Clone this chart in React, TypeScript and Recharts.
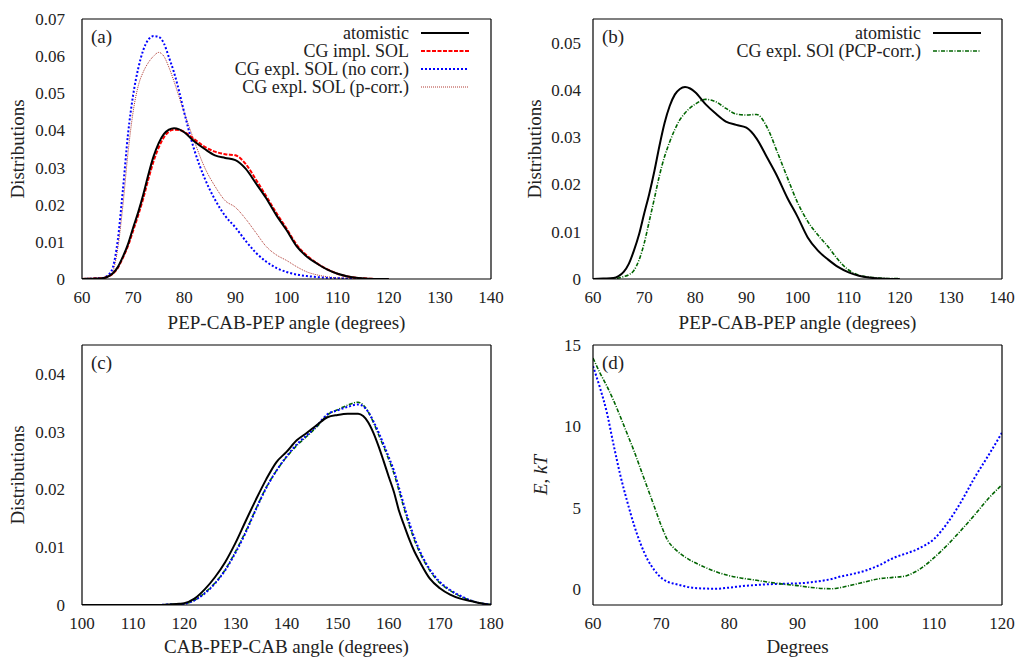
import React from "react";
import { LineChart, Line, XAxis, YAxis } from "recharts";

const FONT = '"Liberation Serif", "Times New Roman", serif';
const INK = "#222";

// (a), (b): PEP-CAB-PEP angle in degrees
const pepAngle = [60, 62, 64, 65, 66, 67, 68, 69, 70, 71, 72, 73, 74, 75, 76, 77, 78, 79, 80, 82, 84, 86, 88, 90, 92, 94, 96, 98, 100, 102, 104, 106, 108, 110, 112, 114, 116, 118, 120];
const pepAtomistic = [0, 0.0001, 0.0002, 0.0006, 0.0015, 0.0032, 0.006, 0.0094, 0.0138, 0.018, 0.0228, 0.0282, 0.033, 0.0366, 0.039, 0.0402, 0.0406, 0.0403, 0.0395, 0.037, 0.035, 0.0333, 0.0326, 0.032, 0.0297, 0.0258, 0.0218, 0.0172, 0.0132, 0.0088, 0.006, 0.0041, 0.0025, 0.0014, 0.0007, 0.0003, 0.0001, 0, 0];
const pepImplSol = [0, 0.0001, 0.0002, 0.0006, 0.0014, 0.003, 0.0057, 0.0089, 0.013, 0.0172, 0.0218, 0.027, 0.0317, 0.0354, 0.0381, 0.0397, 0.0402, 0.0401, 0.0396, 0.0376, 0.0356, 0.0343, 0.0336, 0.0333, 0.031, 0.0268, 0.0224, 0.0178, 0.0136, 0.0092, 0.0063, 0.0042, 0.0026, 0.0014, 0.0007, 0.0003, 0.0001, 0, 0];
const pepNoCorr = [0, 0.0001, 0.0003, 0.0009, 0.003, 0.0105, 0.024, 0.039, 0.0495, 0.0567, 0.0617, 0.0645, 0.0654, 0.0652, 0.0635, 0.0597, 0.0556, 0.0505, 0.0448, 0.0346, 0.0271, 0.0214, 0.017, 0.0139, 0.0103, 0.0071, 0.0047, 0.003, 0.0019, 0.0012, 0.0008, 0.0005, 0.0003, 0.0002, 0.0001, 0, 0, 0, 0];
const pepPCorr = [0, 0.0001, 0.0003, 0.0008, 0.002, 0.0083, 0.0198, 0.034, 0.045, 0.052, 0.0558, 0.0583, 0.06, 0.061, 0.06, 0.057, 0.0532, 0.049, 0.0448, 0.037, 0.03, 0.025, 0.0211, 0.0193, 0.0162, 0.0125, 0.0088, 0.0065, 0.005, 0.0033, 0.0019, 0.0011, 0.0006, 0.0003, 0.0002, 0.0001, 0, 0, 0];
const pepPcpCorr = [0, 0, 0.0001, 0.0002, 0.0005, 0.0009, 0.0018, 0.004, 0.0075, 0.0122, 0.017, 0.0219, 0.0259, 0.029, 0.0316, 0.0337, 0.0351, 0.0362, 0.037, 0.038, 0.0375, 0.0361, 0.0349, 0.0347, 0.0348, 0.0322, 0.027, 0.0215, 0.0162, 0.0122, 0.0093, 0.0068, 0.004, 0.0019, 0.0008, 0.0004, 0.0002, 0.0001, 0.0001];

// (c): CAB-PEP-CAB angle in degrees
const cabAngle = [100, 105, 110, 115, 117, 119, 120, 122, 124, 126, 128, 130, 132, 134, 136, 138, 140, 142, 144, 146, 148, 150, 152, 154, 155, 156, 157, 158, 159, 160, 161, 162, 163, 164, 165, 166, 168, 170, 172, 174, 176, 178, 180];
const cabAtomistic = [0, 0, 0, 0, 0.0001, 0.0002, 0.0003, 0.0011, 0.0027, 0.0048, 0.0074, 0.0107, 0.0145, 0.0182, 0.0217, 0.0247, 0.0265, 0.0285, 0.0298, 0.0312, 0.0325, 0.0329, 0.0331, 0.0331, 0.0327, 0.0316, 0.0298, 0.0275, 0.0249, 0.0222, 0.0196, 0.0163, 0.0138, 0.0114, 0.0093, 0.0076, 0.0046, 0.0029, 0.0018, 0.0011, 0.0007, 0.0003, 0];
const cabNoCorr = [0, 0, 0, 0, 0.0001, 0.0001, 0.0002, 0.0008, 0.002, 0.0037, 0.006, 0.009, 0.0125, 0.0165, 0.0202, 0.0232, 0.0257, 0.0278, 0.0294, 0.0311, 0.033, 0.0337, 0.0343, 0.0347, 0.0344, 0.0334, 0.0318, 0.0299, 0.0278, 0.0256, 0.0233, 0.0203, 0.0172, 0.0143, 0.0117, 0.0095, 0.0062, 0.004, 0.0026, 0.0016, 0.0008, 0.0003, 0.0001];
const cabPcpCorr = [0, 0, 0, 0, 0.0001, 0.0001, 0.0002, 0.0008, 0.0021, 0.0038, 0.0061, 0.0092, 0.0127, 0.0166, 0.0203, 0.0232, 0.0256, 0.0276, 0.0292, 0.0309, 0.0329, 0.0338, 0.0346, 0.0351, 0.0346, 0.0334, 0.0316, 0.0295, 0.0274, 0.0252, 0.0228, 0.0198, 0.0167, 0.0138, 0.0113, 0.0092, 0.006, 0.0038, 0.0025, 0.0015, 0.0008, 0.0003, 0.0001];

// (d): potentials, kT
const potAngle = [60, 61, 62, 63, 64, 65, 66, 67, 68, 69, 70, 71, 72, 73, 74, 76, 78, 80, 82, 84, 86, 88, 90, 92, 94, 95, 96, 98, 100, 102, 104, 106, 107, 108, 110, 112, 114, 116, 118, 120];
const potNoCorr = [13.7, 12.4, 10.9, 8.9, 7.0, 5.4, 3.95, 2.75, 1.8, 1.15, 0.68, 0.42, 0.3, 0.2, 0.1, 0.02, 0, 0.07, 0.17, 0.23, 0.28, 0.31, 0.33, 0.4, 0.52, 0.6, 0.72, 0.9, 1.12, 1.45, 1.88, 2.18, 2.33, 2.52, 3.05, 4.05, 5.35, 6.85, 8.2, 9.6];
const potPcpCorr = [14.2, 13.3, 12.5, 11.6, 10.6, 9.55, 8.5, 7.35, 6.2, 5.05, 3.9, 2.95, 2.45, 2.1, 1.82, 1.4, 1.05, 0.8, 0.64, 0.52, 0.39, 0.28, 0.19, 0.08, 0.01, 0, 0.05, 0.23, 0.43, 0.62, 0.7, 0.8, 0.98, 1.22, 1.9, 2.7, 3.6, 4.55, 5.55, 6.4];

const pepTicksX = [60, 70, 80, 90, 100, 110, 120, 130, 140];
const cabTicksX = [100, 110, 120, 130, 140, 150, 160, 170, 180];
const potTicksX = [60, 70, 80, 90, 100, 110, 120];
const ticksA = [0, 0.01, 0.02, 0.03, 0.04, 0.05, 0.06, 0.07];
const ticksB = [0, 0.01, 0.02, 0.03, 0.04, 0.05];
const ticksC = [0, 0.01, 0.02, 0.03, 0.04];
const ticksD = [0, 5, 10, 15];

const pepRows = pepAngle.map((x, i) => ({
  x,
  atom: pepAtomistic[i],
  impl: pepImplSol[i],
  noCorr: pepNoCorr[i],
  pCorr: pepPCorr[i],
  pcp: pepPcpCorr[i],
}));
const cabRows = cabAngle.map((x, i) => ({
  x,
  atom: cabAtomistic[i],
  noCorr: cabNoCorr[i],
  pcp: cabPcpCorr[i],
}));
const potRows = potAngle.map((x, i) => ({ x, noCorr: potNoCorr[i], pcp: potPcpCorr[i] }));

interface SeriesStyle {
  key: string;
  name: string;
  stroke: string;
  width: number;
  dash?: string;
}

const ATOM: SeriesStyle = { key: "atom", name: "atomistic", stroke: "#000", width: 2 };
const IMPL: SeriesStyle = { key: "impl", name: "CG impl. SOL", stroke: "#ff0000", width: 2, dash: "4 1.5" };
const NOCORR: SeriesStyle = { key: "noCorr", name: "CG expl. SOL (no corr.)", stroke: "#0000ff", width: 2, dash: "2 2" };
const PCORR: SeriesStyle = { key: "pCorr", name: "CG expl. SOL (p-corr.)", stroke: "#b03a32", width: 1, dash: "1 1" };
const PCP: SeriesStyle = { key: "pcp", name: "CG expl. SOl (PCP-corr.)", stroke: "#006400", width: 1.6, dash: "4 1.5 1 1.5" };

// axis title drawn at a fixed spot; props named so recharts won't overwrite them
function AxisTitle({ px, py, vertical, children }: { px: number; py: number; vertical?: boolean; children: React.ReactNode }) {
  return (
    <text
      x={px}
      y={py}
      transform={vertical ? `rotate(-90 ${px} ${py})` : undefined}
      textAnchor="middle"
      dominantBaseline="central"
      fontFamily={FONT}
      fontSize={19}
      fill={INK}
    >
      {children}
    </text>
  );
}

interface PanelProps {
  left: number;
  top: number;
  width: number;
  height: number;
  marginTop: number;
  marginRight: number;
  yAxisWidth: number;
  xAxisHeight: number;
  xTitleGap: number;
  rows: Record<string, number>[];
  xDomain: [number, number];
  xTicks: number[];
  yDomain: [number, number];
  yTicks: number[];
  yDigits: number;
  yTickGap: number;
  yTitle: React.ReactNode;
  yTitleX: number;
  xTitle: string;
  tag: string;
  series: SeriesStyle[];
  legend?: SeriesStyle[];
  legendTop?: number;
  legendEnd?: number;
}

function Panel(p: PanelProps) {
  const plotBottom = p.height - p.xAxisHeight;
  const plotMidY = (p.marginTop + plotBottom) / 2;
  const plotMidX = (p.yAxisWidth + p.width - p.marginRight) / 2;
  const tickFont = { fontFamily: FONT, fontSize: 17, fill: INK };
  const border = { stroke: "#000", strokeWidth: 1.2 };
  const inner = { stroke: "#000", strokeWidth: 1 };

  const xCommon = {
    dataKey: "x",
    type: "number" as const,
    domain: p.xDomain,
    ticks: p.xTicks,
    interval: 0 as const,
    allowDataOverflow: true,
  };
  const yCommon = {
    type: "number" as const,
    domain: p.yDomain,
    ticks: p.yTicks,
    interval: 0 as const,
    allowDataOverflow: true,
  };

  return (
    <div style={{ position: "absolute", left: p.left, top: p.top, width: p.width, height: p.height }}>
      <LineChart
        width={p.width}
        height={p.height}
        data={p.rows}
        margin={{ top: p.marginTop, right: p.marginRight, bottom: 0, left: 0 }}
      >
        <XAxis
          {...xCommon}
          xAxisId="bottom"
          height={p.xAxisHeight}
          tickLine={false}
          tickSize={0}
          tickMargin={12}
          axisLine={border}
          tick={tickFont}
          label={<AxisTitle px={plotMidX} py={plotBottom + p.xTitleGap}>{p.xTitle}</AxisTitle>}
        />
        <XAxis {...xCommon} xAxisId="bottomTicks" mirror tick={false} tickSize={6} tickLine={inner} axisLine={false} />
        <XAxis {...xCommon} xAxisId="top" orientation="top" mirror tick={false} tickSize={6} tickLine={inner} axisLine={border} />
        <YAxis
          {...yCommon}
          yAxisId="left"
          width={p.yAxisWidth}
          tickLine={false}
          tickSize={0}
          tickMargin={p.yTickGap}
          axisLine={border}
          tick={tickFont}
          tickFormatter={(v: number) => (v === 0 ? "0" : v.toFixed(p.yDigits))}
          label={
            <AxisTitle px={p.yTitleX} py={plotMidY} vertical>
              {p.yTitle}
            </AxisTitle>
          }
        />
        <YAxis {...yCommon} yAxisId="leftTicks" mirror tick={false} tickSize={6} tickLine={inner} axisLine={false} />
        <YAxis {...yCommon} yAxisId="right" orientation="right" mirror tick={false} tickSize={6} tickLine={inner} axisLine={border} />
        {p.series.map((s) => (
          <Line
            key={s.key}
            xAxisId="bottom"
            yAxisId="left"
            type="monotone"
            dataKey={s.key}
            name={s.name}
            stroke={s.stroke}
            strokeWidth={s.width}
            strokeDasharray={s.dash}
            dot={false}
            activeDot={false}
            isAnimationActive={false}
          />
        ))}
      </LineChart>

      <div
        style={{
          position: "absolute",
          left: p.yAxisWidth + 9,
          top: p.marginTop + 8,
          fontFamily: FONT,
          fontSize: 19,
          lineHeight: "19px",
          color: INK,
        }}
      >
        {p.tag}
      </div>

      {p.legend && (
        <div
          style={{
            position: "absolute",
            left: 0,
            width: p.legendEnd,
            top: (p.legendTop ?? 0) - 9,
            fontFamily: FONT,
            fontSize: 18,
            lineHeight: "18px",
            color: INK,
          }}
        >
          {p.legend.map((s) => (
            <div
              key={s.key}
              style={{ display: "flex", justifyContent: "flex-end", alignItems: "center", height: 18, whiteSpace: "nowrap" }}
            >
              <span>{s.name}</span>
              <svg width={48} height={10} style={{ marginLeft: 12 }}>
                <line x1={0} y1={5} x2={48} y2={5} stroke={s.stroke} strokeWidth={s.width} strokeDasharray={s.dash} />
              </svg>
            </div>
          ))}
        </div>
      )}
    </div>
  );
}

export default function App() {
  return (
    <div style={{ position: "absolute", left: 0, top: 0, width: 1019, height: 658, background: "#fff" }}>
      <Panel
        left={0}
        top={0}
        width={510}
        height={345}
        marginTop={19}
        marginRight={19}
        yAxisWidth={82}
        xAxisHeight={66}
        xTitleGap={43}
        rows={pepRows}
        xDomain={[60, 140]}
        xTicks={pepTicksX}
        yDomain={[0, 0.07]}
        yTicks={ticksA}
        yDigits={2}
        yTickGap={17}
        yTitle="Distributions"
        yTitleX={17}
        xTitle="PEP-CAB-PEP angle (degrees)"
        tag="(a)"
        series={[PCORR, NOCORR, IMPL, ATOM]}
        legend={[ATOM, IMPL, NOCORR, PCORR]}
        legendTop={33}
        legendEnd={469}
      />
      <Panel
        left={510}
        top={0}
        width={509}
        height={345}
        marginTop={19}
        marginRight={17}
        yAxisWidth={83}
        xAxisHeight={66}
        xTitleGap={43}
        rows={pepRows}
        xDomain={[60, 140]}
        xTicks={pepTicksX}
        yDomain={[0, 0.055]}
        yTicks={ticksB}
        yDigits={2}
        yTickGap={12}
        yTitle="Distributions"
        yTitleX={24}
        xTitle="PEP-CAB-PEP angle (degrees)"
        tag="(b)"
        series={[PCP, ATOM]}
        legend={[ATOM, PCP]}
        legendTop={33}
        legendEnd={471}
      />
      <Panel
        left={0}
        top={330}
        width={510}
        height={328}
        marginTop={15}
        marginRight={19}
        yAxisWidth={82}
        xAxisHeight={53}
        xTitleGap={41}
        rows={cabRows}
        xDomain={[100, 180]}
        xTicks={cabTicksX}
        yDomain={[0, 0.045]}
        yTicks={ticksC}
        yDigits={2}
        yTickGap={17}
        yTitle="Distributions"
        yTitleX={17}
        xTitle="CAB-PEP-CAB angle (degrees)"
        tag="(c)"
        series={[PCP, NOCORR, ATOM]}
      />
      <Panel
        left={510}
        top={330}
        width={509}
        height={328}
        marginTop={15}
        marginRight={17}
        yAxisWidth={83}
        xAxisHeight={53}
        xTitleGap={41}
        rows={potRows}
        xDomain={[60, 120]}
        xTicks={potTicksX}
        yDomain={[-1, 15]}
        yTicks={ticksD}
        yDigits={0}
        yTickGap={12}
        yTitle={
          <>
            <tspan fontStyle="italic">E</tspan>
            <tspan>, </tspan>
            <tspan fontStyle="italic">kT</tspan>
          </>
        }
        yTitleX={30}
        xTitle="Degrees"
        tag="(d)"
        series={[NOCORR, PCP]}
      />
    </div>
  );
}
